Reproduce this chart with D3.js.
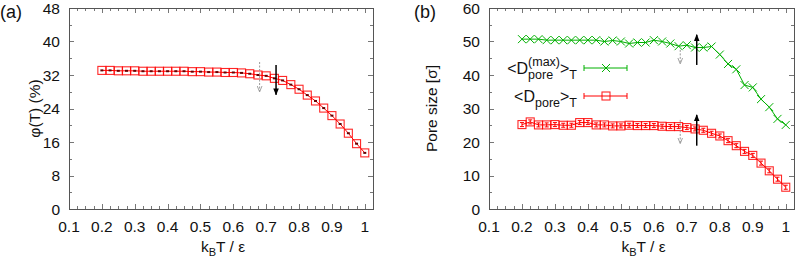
<!DOCTYPE html>
<html>
<head>
<meta charset="utf-8">
<script src="https://cdn.jsdelivr.net/npm/d3@7"></script>
<style>
  body { margin: 0; background: #fff; }
  text { font-family: "Liberation Sans", Arial, sans-serif; fill: #111; }
</style>
</head>
<body>
<div class="canvas"></div>
<script>
// data
const temps = [0.2, 0.225, 0.25, 0.275, 0.3, 0.325, 0.35, 0.375, 0.4, 0.425, 0.45,
  0.475, 0.5, 0.525, 0.55, 0.575, 0.6, 0.625, 0.65, 0.675, 0.7, 0.725, 0.75,
  0.775, 0.8, 0.825, 0.85, 0.875, 0.9, 0.925, 0.95, 0.975, 1.0];

const phiVals = [33.1, 33.1, 33.0, 33.0, 33.0, 32.9, 32.9, 32.9, 32.9, 32.9, 32.9,
  32.8, 32.8, 32.7, 32.7, 32.6, 32.6, 32.5, 32.3, 32.0, 31.8, 31.2, 30.7,
  29.7, 28.6, 27.2, 25.8, 24.1, 22.3, 20.3, 18.1, 15.6, 13.4];

const dMaxVals = [50.7, 50.7, 50.7, 50.4, 50.4, 50.4, 50.4, 50.4, 50.4, 50.4, 50.0,
  50.3, 50.0, 49.4, 49.7, 49.7, 50.4, 50.0, 49.4, 48.6, 48.9, 48.2, 48.2,
  48.5, 46.1, 43.3, 41.7, 37.0, 36.3, 32.8, 30.4, 26.9, 25.1];

const dPoreVals = [25.2, 26.0, 25.1, 25.1, 25.2, 25.0, 25.0, 25.8, 25.8, 25.1, 25.1,
  24.8, 24.8, 25.0, 24.9, 24.9, 24.9, 24.7, 24.6, 24.6, 24.3, 23.9, 23.5,
  22.6, 21.8, 20.4, 18.9, 17.2, 16.0, 13.7, 11.4, 8.9, 6.5];

const dPoreErr = [0.6, 0.6, 0.6, 0.6, 0.6, 0.6, 0.6, 0.6, 0.6, 0.6, 0.6,
  0.6, 0.6, 0.6, 0.6, 0.6, 0.6, 0.6, 0.6, 0.6, 0.6, 0.6, 0.6,
  0.6, 0.6, 0.6, 0.6, 0.6, 0.6, 0.6, 0.6, 0.6, 0.6];

const xTicks = [0.1, 0.2, 0.3, 0.4, 0.5, 0.6, 0.7, 0.8, 0.9, 1];
const phiTicks = [0, 8, 16, 24, 32, 40, 48];
const poreTicks = [0, 10, 20, 30, 40, 50, 60];

// arrows: [x, yFrom, yTo]
const arrowsA = { grey: [[0.68, 35.1, 28.1]], black: [[0.73, 34.4, 27.3]] };
const arrowsB = {
  grey: [[0.68, 47.5, 43.5], [0.68, 26.6, 19.7]],
  black: [[0.73, 43.0, 52.0], [0.73, 18.9, 28.1]]
};

const RED = '#ff0000';
const GREEN = '#00b000';

const svg = d3.select('.canvas')
  .append('svg')
    .attr('width', 800)
    .attr('height', 259);

const defs = svg.append('defs');
defs.append('marker')
    .attr('id', 'headBlack')
    .attr('viewBox', '0 0 10 10')
    .attr('refX', 9).attr('refY', 5)
    .attr('markerWidth', 7).attr('markerHeight', 7)
    .attr('markerUnits', 'userSpaceOnUse')
    .attr('orient', 'auto')
  .append('path')
    .attr('d', 'M0,1 L10,5 L0,9 Z')
    .attr('fill', '#000');
defs.append('marker')
    .attr('id', 'headGrey')
    .attr('viewBox', '0 0 10 10')
    .attr('refX', 9).attr('refY', 5)
    .attr('markerWidth', 6).attr('markerHeight', 6)
    .attr('markerUnits', 'userSpaceOnUse')
    .attr('orient', 'auto')
  .append('path')
    .attr('d', 'M0,1 L10,5 L0,9')
    .attr('fill', 'none')
    .attr('stroke', '#999')
    .attr('stroke-width', 1.5);

// sets up one panel: frame, ticks, labels; returns scales and group
const makePanel = (opts) => {
  const x = d3.scaleLinear().domain([0.1, 1.025]).range([opts.x0, opts.x1]);
  const y = d3.scaleLinear().domain(opts.yDomain).range([opts.y1, opts.y0]);
  const g = svg.append('g');

  // minor + major ticks (inward, mirrored)
  const ticks = g.append('g').attr('stroke', '#777').attr('stroke-width', 1);
  const xMinor = d3.range(0.1, 1.03, 0.025);
  xMinor.forEach((v, i) => {
    const len = i % 4 === 0 ? 5 : 3;
    const px = Math.round(x(v)) + 0.5;
    ticks.append('line').attr('x1', px).attr('x2', px)
      .attr('y1', opts.y1).attr('y2', opts.y1 - len);
    ticks.append('line').attr('x1', px).attr('x2', px)
      .attr('y1', opts.y0).attr('y2', opts.y0 + len);
  });
  const yStep = opts.yTicks[1] - opts.yTicks[0];
  opts.yTicks.forEach(v => {
    [0, 0.5].forEach(f => {
      const val = v + f * yStep;
      if (val > opts.yDomain[1]) return;
      const len = f === 0 ? 5 : 3;
      const py = Math.round(y(val)) + 0.5;
      ticks.append('line').attr('x1', opts.x0).attr('x2', opts.x0 + len)
        .attr('y1', py).attr('y2', py);
      ticks.append('line').attr('x1', opts.x1).attr('x2', opts.x1 - len)
        .attr('y1', py).attr('y2', py);
    });
  });

  // frame
  g.append('rect')
    .attr('x', opts.x0 + 0.5).attr('y', opts.y0 + 0.5)
    .attr('width', opts.x1 - opts.x0).attr('height', opts.y1 - opts.y0)
    .attr('fill', 'none').attr('stroke', '#555').attr('stroke-width', 1);

  // tick labels
  g.selectAll('.xl').data(xTicks).enter().append('text')
    .attr('x', d => x(d)).attr('y', opts.y1 + 23)
    .attr('text-anchor', 'middle').attr('font-size', 15.5)
    .text(d => d);
  g.selectAll('.yl').data(opts.yTicks).enter().append('text')
    .attr('x', opts.x0 - 9).attr('y', d => y(d) + 5.5)
    .attr('text-anchor', 'end').attr('font-size', 15.5)
    .text(d => d);

  // x label: k_B T / ε
  const xl = g.append('text')
    .attr('x', (opts.x0 + opts.x1) / 2 + 2).attr('y', 252)
    .attr('text-anchor', 'middle').attr('font-size', 15.5);
  xl.append('tspan').text('k');
  xl.append('tspan').attr('font-size', 11).attr('dy', 4).text('B');
  xl.append('tspan').attr('dy', -4).text('T / ε');

  // y label
  g.append('text')
    .attr('transform', `translate(${opts.yLabelX},${(opts.y0 + opts.y1) / 2}) rotate(-90)`)
    .attr('text-anchor', 'middle').attr('font-size', 15.5)
    .text(opts.yLabel);

  // panel tag
  g.append('text')
    .attr('x', opts.tagX).attr('y', 18)
    .attr('font-family', '"Liberation Serif", "DejaVu Serif", serif')
    .attr('font-size', 18)
    .text(opts.tag);

  return { x, y, g };
};

const drawArrows = (p, arrows) => {
  arrows.grey.forEach(a => {
    p.g.append('line')
      .attr('x1', p.x(a[0])).attr('x2', p.x(a[0]))
      .attr('y1', p.y(a[1])).attr('y2', p.y(a[2]))
      .attr('stroke', '#999').attr('stroke-width', 1)
      .attr('stroke-dasharray', '2,1.5')
      .attr('marker-end', 'url(#headGrey)');
  });
  arrows.black.forEach(a => {
    p.g.append('line')
      .attr('x1', p.x(a[0])).attr('x2', p.x(a[0]))
      .attr('y1', p.y(a[1])).attr('y2', p.y(a[2]))
      .attr('stroke', '#000').attr('stroke-width', 1.5)
      .attr('marker-end', 'url(#headBlack)');
  });
};

const squareMarker = (sel, cx, cy) => {
  sel.append('rect')
    .attr('x', cx - 4).attr('y', cy - 4)
    .attr('width', 8).attr('height', 8)
    .attr('fill', 'none').attr('stroke', RED).attr('stroke-width', 1.1)
    .attr('stroke-opacity', 0.85);
};

const crossMarker = (sel, cx, cy) => {
  sel.append('path')
    .attr('d', `M${cx - 4},${cy - 4}L${cx + 4},${cy + 4}M${cx - 4},${cy + 4}L${cx + 4},${cy - 4}`)
    .attr('stroke', GREEN).attr('stroke-width', 1);
};

// ---------- panel (a) ----------
const pa = makePanel({
  x0: 69, x1: 373, y0: 8, y1: 209,
  yDomain: [0, 48], yTicks: phiTicks,
  yLabel: 'φ(T) (%)', yLabelX: 40,
  tag: '(a)', tagX: 0
});

const lineA = d3.line().x((d, i) => pa.x(temps[i])).y(d => pa.y(d));
pa.g.append('path')
  .attr('d', lineA(phiVals))
  .attr('fill', 'none').attr('stroke', RED).attr('stroke-width', 1);
phiVals.forEach((v, i) => {
  const cx = pa.x(temps[i]), cy = pa.y(v);
  squareMarker(pa.g, cx, cy);
  pa.g.append('line')
    .attr('x1', cx - 1.5).attr('x2', cx + 1.5).attr('y1', cy).attr('y2', cy)
    .attr('stroke', '#600').attr('stroke-width', 2);
});
drawArrows(pa, arrowsA);

// ---------- panel (b) ----------
const pb = makePanel({
  x0: 489, x1: 794, y0: 8, y1: 209,
  yDomain: [0, 60], yTicks: poreTicks,
  yLabel: 'Pore size [σ]', yLabelX: 437,
  tag: '(b)', tagX: 414
});

const lineB = d3.line().x((d, i) => pb.x(temps[i])).y(d => pb.y(d));
pb.g.append('path')
  .attr('d', lineB(dMaxVals))
  .attr('fill', 'none').attr('stroke', GREEN).attr('stroke-width', 1);
dMaxVals.forEach((v, i) => crossMarker(pb.g, pb.x(temps[i]), pb.y(v)));

pb.g.append('path')
  .attr('d', lineB(dPoreVals))
  .attr('fill', 'none').attr('stroke', RED).attr('stroke-width', 1);
dPoreVals.forEach((v, i) => {
  const cx = pb.x(temps[i]), cy = pb.y(v);
  squareMarker(pb.g, cx, cy);
  const top = pb.y(v + dPoreErr[i]), bot = pb.y(v - dPoreErr[i]);
  pb.g.append('path')
    .attr('d', `M${cx},${top}L${cx},${bot}M${cx - 2},${top}L${cx + 2},${top}M${cx - 2},${bot}L${cx + 2},${bot}`)
    .attr('stroke', RED).attr('stroke-width', 1);
});
drawArrows(pb, arrowsB);

// legend: each piece is its own text so stacked sub/superscripts stay apart
const legendRows = [
  { y: 68, color: GREEN, kind: 'cross', sup: '(max)' },
  { y: 96, color: RED, kind: 'square', sup: null }
];
legendRows.forEach(r => {
  const base = r.y + 6;
  const tail = pb.g.append('text')
    .attr('x', 577).attr('y', base)
    .attr('text-anchor', 'end').attr('font-size', 16);
  tail.append('tspan').text('>');
  tail.append('tspan').attr('font-size', 12.5).attr('dy', 5).text('T');
  const tailW = tail.node().getComputedTextLength();

  let scriptW;
  const sub = pb.g.append('text')
    .attr('y', base + 5).attr('font-size', 12.5).text('pore');
  scriptW = sub.node().getComputedTextLength();
  let supText = null;
  if (r.sup) {
    supText = pb.g.append('text')
      .attr('y', base - 8).attr('font-size', 12.5).text(r.sup);
    scriptW = Math.max(scriptW, supText.node().getComputedTextLength());
  }
  const scriptX = 577 - tailW - scriptW;
  sub.attr('x', scriptX);
  if (supText) supText.attr('x', scriptX);

  pb.g.append('text')
    .attr('x', scriptX).attr('y', base)
    .attr('text-anchor', 'end').attr('font-size', 16)
    .text('<D');

  pb.g.append('path')
    .attr('d', `M584,${r.y}L627,${r.y}M584,${r.y - 3}L584,${r.y + 3}M627,${r.y - 3}L627,${r.y + 3}`)
    .attr('stroke', r.color).attr('stroke-width', 1);
  if (r.kind === 'cross') crossMarker(pb.g, 606, r.y);
  else squareMarker(pb.g, 606, r.y);
});
</script>
</body>
</html>
